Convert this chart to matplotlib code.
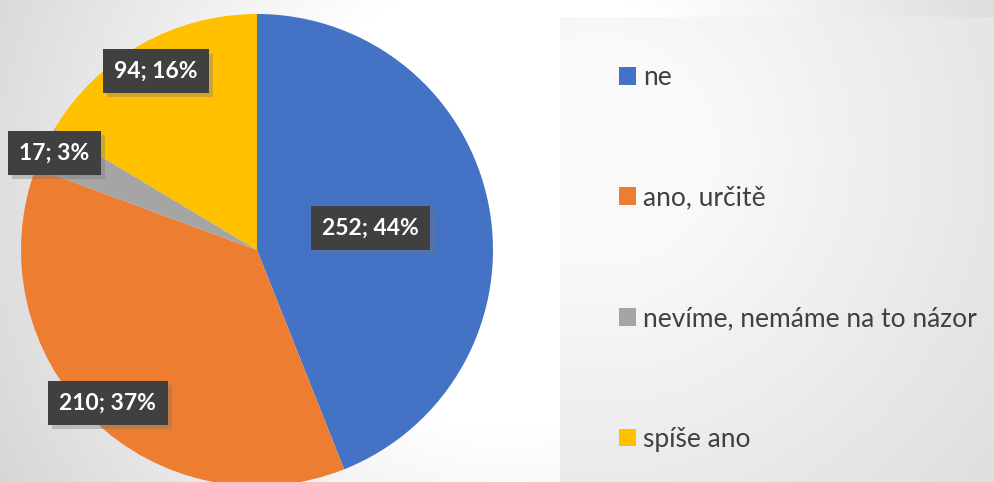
import numpy as np
import matplotlib
matplotlib.use('Agg')
import matplotlib.pyplot as plt
import matplotlib.patheffects as pe

# data
categories = ['ne', 'ano, určitě', 'nevíme, nemáme na to názor', 'spíše ano']
counts = [252, 210, 17, 94]
colors = ['#4472C4', '#ED7D31', '#A5A5A5', '#FFC000']
label_dist = [0.49, 0.905, 0.953, 0.87]

W, H = 994, 482
fig = plt.figure(figsize=(W / 100, H / 100), dpi=100)

# background gradients
bg = fig.add_axes([0, 0, 1, 1], zorder=-5)
yy, xx = np.mgrid[0:H, 0:W]
d = np.hypot(xx - 510, yy - 200)
v = 255 - 0.116 * np.clip(d - 230, 0, None)
img = np.dstack([v, v, v]) / 255
# legend panel
px0, py0 = 560, 17
d2 = np.hypot(xx - 600, yy - 150)
v2 = 250 - 0.067 * np.clip(d2 - 100, 0, None)
mask = (xx >= px0) & (yy >= py0)
img[mask] = (np.dstack([v2, v2, v2]) / 255)[mask]
bg.imshow(np.clip(img, 0, 1), extent=[0, W, H, 0], aspect='auto')
bg.set_xlim(0, W)
bg.set_ylim(H, 0)
bg.axis('off')

# pie
cx, cy, r = 257, 250, 236
ax = fig.add_axes([(cx - r) / W, (H - cy - r) / H, 2 * r / W, 2 * r / H])
wedges, _ = ax.pie(counts, colors=colors, startangle=90, counterclock=False,
                   radius=1, wedgeprops=dict(linewidth=0))
ax.set_xlim(-1, 1)
ax.set_ylim(-1, 1)
ax.set_aspect('equal')
ax.axis('off')

total = sum(counts)
for w, n, dist in zip(wedges, counts, label_dist):
    ang = np.deg2rad((w.theta1 + w.theta2) / 2)
    t = ax.text(dist * np.cos(ang), dist * np.sin(ang),
                f'{n}; {n / total * 100:.0f}%',
                ha='center', va='center', color='white', fontsize=16.5,
                fontweight='bold', family='Lato',
                bbox=dict(boxstyle='square,pad=0.5', facecolor='#404040',
                          edgecolor='none'))
    t.get_bbox_patch().set_path_effects([
        pe.SimplePatchShadow(offset=(3, -3), shadow_rgbFace='#777777', alpha=0.35),
        pe.Normal()])

leg = fig.legend(wedges, categories, loc='upper left',
                 bbox_to_anchor=(619 / W, 1 - 65 / H), frameon=False,
                 prop=dict(family='Lato', size=19), labelcolor='#404040',
                 handlelength=0.65, handleheight=0.65, handletextpad=0.25,
                 labelspacing=3.62, borderpad=0, borderaxespad=0)

fig.savefig('out.png', dpi=100)
